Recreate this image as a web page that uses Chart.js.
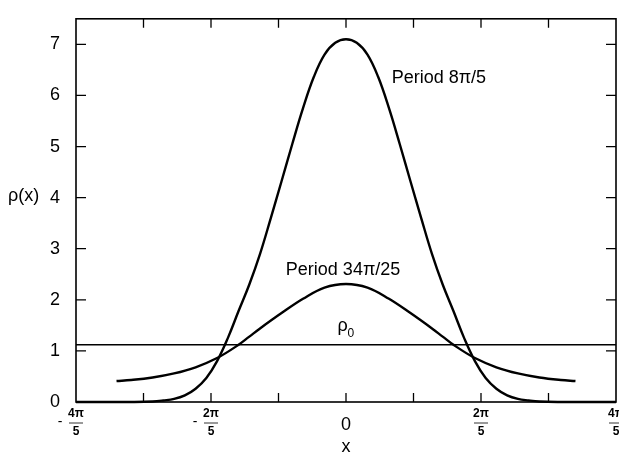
<!DOCTYPE html>
<html>
<head>
<meta charset="utf-8">
<script src="https://cdn.jsdelivr.net/npm/chart.js@4/dist/chart.umd.min.js"></script>
<style>
  html, body { margin: 0; padding: 0; background: #fff; }
  #wrap { width: 619px; height: 456px; }
</style>
</head>
<body>
<div id="wrap"><canvas id="chart" width="619" height="456"></canvas></div>
<script>
const PI = Math.PI;
const FONT = "'Liberation Sans', Arial, Helvetica, sans-serif";

// Period 8π/5 curve
const tallX = [-2.513, -2.2, -2.0, -1.8, -1.7, -1.6, -1.5, -1.4, -1.3, -1.2, -1.1, -1.0, -0.9, -0.8, -0.7, -0.6, -0.5, -0.4, -0.3, -0.2, -0.1, 0,
               0.1, 0.2, 0.3, 0.4, 0.5, 0.6, 0.7, 0.8, 0.9, 1.0, 1.1, 1.2, 1.3, 1.4, 1.5, 1.6, 1.7, 1.8, 2.0, 2.2, 2.513];
const tallY = [0, 0, 0, 0.01, 0.03, 0.06, 0.13, 0.26, 0.47, 0.80, 1.25, 1.78, 2.30, 2.90, 3.60, 4.32, 5.05, 5.75, 6.36, 6.80, 7.03, 7.10,
               7.03, 6.80, 6.36, 5.75, 5.05, 4.32, 3.60, 2.90, 2.30, 1.78, 1.25, 0.80, 0.47, 0.26, 0.13, 0.06, 0.03, 0.01, 0, 0, 0];

// Period 34π/25 curve
const lowX = [-2.136, -2.0, -1.8, -1.6, -1.4, -1.2, -1.0, -0.9, -0.8, -0.6, -0.4, -0.2, 0,
              0.2, 0.4, 0.6, 0.8, 0.9, 1.0, 1.2, 1.4, 1.6, 1.8, 2.0, 2.136];
const lowY = [0.41, 0.43, 0.48, 0.56, 0.68, 0.86, 1.12, 1.28, 1.44, 1.74, 2.02, 2.24, 2.31,
              2.24, 2.02, 1.74, 1.44, 1.28, 1.12, 0.86, 0.68, 0.56, 0.48, 0.43, 0.41];

// uniform density ρ0
const rho0 = 1.12;

const xMin = -4 * PI / 5, xMax = 4 * PI / 5;
const yTicks = [0, 1, 2, 3, 4, 5, 6, 7];
const xTickMarks = [-3 * PI / 5, -2 * PI / 5, -PI / 5, 0, PI / 5, 2 * PI / 5, 3 * PI / 5];
const xLabelVals = [-4 * PI / 5, -2 * PI / 5, 0, 2 * PI / 5, 4 * PI / 5];
const xLabelSign = ['-', '-', '', '', ''];
const xLabelNum = ['4π', '2π', '0', '2π', '4π'];
const xLabelDen = ['5', '5', '', '5', '5'];

const pts = (xs, ys) => xs.map((x, i) => ({ x, y: ys[i] }));

const decor = {
  id: 'decor',
  afterDraw(chart) {
    const { ctx, chartArea: a } = chart;
    const xs = chart.scales.x, ys = chart.scales.y;
    ctx.save();
    ctx.strokeStyle = '#000';
    ctx.fillStyle = '#000';

    // frame
    ctx.lineWidth = 1.6;
    ctx.strokeRect(a.left, a.top, a.right - a.left, a.bottom - a.top);

    // inward ticks
    ctx.lineWidth = 1.3;
    ctx.beginPath();
    xTickMarks.forEach(v => {
      const px = xs.getPixelForValue(v);
      ctx.moveTo(px, a.bottom); ctx.lineTo(px, a.bottom - 9);
      ctx.moveTo(px, a.top); ctx.lineTo(px, a.top + 9);
    });
    yTicks.slice(1).forEach(v => {
      const py = ys.getPixelForValue(v);
      ctx.moveTo(a.left, py); ctx.lineTo(a.left + 10, py);
      ctx.moveTo(a.right, py); ctx.lineTo(a.right - 10, py);
    });
    ctx.stroke();

    // x tick labels (fractions)
    ctx.textAlign = 'center';
    ctx.textBaseline = 'middle';
    xLabelVals.forEach((v, i) => {
      const px = xs.getPixelForValue(v);
      if (!xLabelDen[i]) {
        ctx.font = '18px ' + FONT;
        ctx.fillText(xLabelNum[i], px, a.bottom + 23);
        return;
      }
      ctx.font = 'bold 12px ' + FONT;
      ctx.fillText(xLabelNum[i], px, a.bottom + 12);
      ctx.fillText(xLabelDen[i], px, a.bottom + 30);
      ctx.lineWidth = 0.8;
      ctx.beginPath();
      ctx.moveTo(px - 7, a.bottom + 21); ctx.lineTo(px + 7, a.bottom + 21);
      ctx.stroke();
      if (xLabelSign[i]) {
        ctx.font = '14px ' + FONT;
        ctx.fillText(xLabelSign[i], px - 16, a.bottom + 20);
      }
    });

    // axis titles
    ctx.font = '18px ' + FONT;
    ctx.fillText('x', xs.getPixelForValue(0), 447);
    ctx.textAlign = 'left';
    ctx.fillText('ρ(x)', 8, ys.getPixelForValue(4) - 2);

    // curve labels
    ctx.fillText('Period 8π/5', xs.getPixelForValue(0.425), ys.getPixelForValue(6.34));
    ctx.fillText('Period 34π/25', xs.getPixelForValue(-0.56), ys.getPixelForValue(2.58));
    ctx.textBaseline = 'alphabetic';
    const rx = xs.getPixelForValue(-0.08), ry = ys.getPixelForValue(1.39);
    ctx.fillText('ρ', rx, ry);
    ctx.font = '12px ' + FONT;
    ctx.fillText('0', rx + 10, ry + 6);
    ctx.restore();
  }
};

new Chart(document.getElementById('chart'), {
  type: 'scatter',
  data: {
    datasets: [
      { data: pts(tallX, tallY), showLine: true, borderColor: '#000', borderWidth: 2.4, pointRadius: 0, tension: 0.4, clip: false },
      { data: pts(lowX, lowY), showLine: true, borderColor: '#000', borderWidth: 2.4, pointRadius: 0, tension: 0.4 },
      { data: [{ x: xMin, y: rho0 }, { x: xMax, y: rho0 }], showLine: true, borderColor: '#000', borderWidth: 1.5, pointRadius: 0 }
    ]
  },
  options: {
    responsive: false,
    animation: false,
    layout: { padding: { top: 14, right: 3, left: 0, bottom: 0 } },
    plugins: { legend: { display: false }, tooltip: { enabled: false } },
    scales: {
      x: {
        type: 'linear', min: xMin, max: xMax,
        grid: { display: false }, border: { display: false },
        ticks: { display: false },
        afterFit: s => { s.height = 54; }
      },
      y: {
        min: 0, max: 7.5,
        grid: { display: false }, border: { display: false },
        ticks: { color: '#000', font: { size: 18, family: FONT }, padding: 8 },
        afterBuildTicks: s => { s.ticks = yTicks.map(v => ({ value: v })); },
        afterFit: s => { s.width = 76; }
      }
    }
  },
  plugins: [decor]
});
</script>
</body>
</html>
